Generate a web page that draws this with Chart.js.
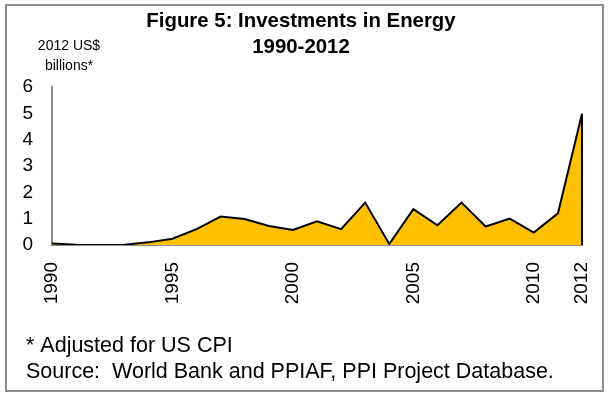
<!DOCTYPE html>
<html>
<head>
<meta charset="utf-8">
<title>Investments in Energy 1990-2012</title>
<script src="https://cdn.jsdelivr.net/npm/chart.js@4.4.1/dist/chart.umd.min.js"></script>
<style>
  html, body { margin: 0; padding: 0; background: #fff; }
  #wrap { position: relative; width: 608px; height: 394px; }
</style>
</head>
<body>
<div id="wrap"><canvas id="energyChart" width="608" height="394"></canvas></div>
<script>
// Investment in energy, 2012 US$ billions (adjusted for US CPI)
const years = ['1990', '1991', '1992', '1993', '1994', '1995', '1996', '1997', '1998', '1999', '2000',
               '2001', '2002', '2003', '2004', '2005', '2006', '2007', '2008', '2009', '2010', '2011', '2012'];
const investment = [0.06, 0.01, 0.0, 0.01, 0.1, 0.24, 0.6, 1.08, 0.99, 0.72, 0.57,
                    0.9, 0.6, 1.61, 0.04, 1.36, 0.75, 1.61, 0.7, 1.0, 0.47, 1.2, 4.98];
const shownYears = ['1990', '1995', '2000', '2005', '2010', '2012'];
const titleLines = ['Figure 5: Investments in Energy', '1990-2012'];
const unitLines = ['2012 US$', 'billions*'];
const noteLines = ['* Adjusted for US CPI', 'Source:  World Bank and PPIAF, PPI Project Database.'];

const FONT = "'Liberation Sans', Arial, sans-serif";
const AXIS_GREY = '#8c8c8c';

// frame, unit label, footnotes and the closing edge of the area
const decorations = {
    id: 'decorations',
    afterDraw(chart) {
        const ctx = chart.ctx;
        const area = chart.chartArea;
        ctx.save();

        // right-hand closing edge of the filled area
        const meta = chart.getDatasetMeta(0);
        const last = meta.data[meta.data.length - 1];
        ctx.strokeStyle = '#000';
        ctx.lineWidth = 2;
        ctx.beginPath();
        ctx.moveTo(last.x, last.y);
        ctx.lineTo(last.x, area.bottom);
        ctx.stroke();

        // outer frame
        ctx.strokeStyle = AXIS_GREY;
        ctx.lineWidth = 2;
        ctx.strokeRect(6, 5, 597, 386);

        ctx.fillStyle = '#000';
        ctx.textBaseline = 'middle';

        // unit label above the y axis
        ctx.font = '14px ' + FONT;
        ctx.textAlign = 'center';
        ctx.fillText(unitLines[0], 69, 46);
        ctx.fillText(unitLines[1], 69, 66);

        // footnotes
        ctx.font = '21.5px ' + FONT;
        ctx.textAlign = 'left';
        ctx.fillText(noteLines[0], 26, 346);
        ctx.fillText(noteLines[1], 26, 372);

        ctx.restore();
    }
};

const ctx = document.getElementById('energyChart').getContext('2d');
const chart = new Chart(ctx, {
    type: 'line',
    data: {
        labels: years,
        datasets: [{
            label: 'Investments in Energy',
            data: investment,
            borderColor: '#000',
            borderWidth: 2,
            backgroundColor: '#ffc000',
            fill: 'origin',
            tension: 0,
            pointRadius: 0,
            pointHoverRadius: 0
        }]
    },
    options: {
        responsive: false,
        animation: false,
        events: [],
        layout: {
            padding: { left: 20, right: 26, top: 0, bottom: 0 }
        },
        plugins: {
            legend: { display: false },
            tooltip: { enabled: false },
            title: {
                display: true,
                text: titleLines,
                color: '#000',
                font: { family: FONT, size: 20.4, weight: 'bold', lineHeight: 1.25 },
                padding: { top: 9, bottom: 27 }
            }
        },
        scales: {
            x: {
                offset: false,
                z: 1,
                grid: { display: false, drawTicks: false },
                border: { display: true, color: AXIS_GREY, width: 2 },
                ticks: {
                    autoSkip: false,
                    maxRotation: 90,
                    minRotation: 90,
                    padding: 17,
                    color: '#000',
                    font: { family: FONT, size: 19 },
                    callback: function (value) {
                        const label = this.getLabelForValue(value);
                        return shownYears.includes(label) ? label : '';
                    }
                },
                afterFit: (scale) => {
                    scale.height = 149;
                    scale.paddingLeft = 0;
                    scale.paddingRight = 0;
                }
            },
            y: {
                min: 0,
                max: 6,
                z: 1,
                grid: { display: false, drawTicks: false },
                border: { display: true, color: AXIS_GREY, width: 2 },
                ticks: {
                    stepSize: 1,
                    padding: 19,
                    color: '#000',
                    font: { family: FONT, size: 19 }
                },
                afterFit: (scale) => {
                    scale.width = 32;
                    scale.paddingTop = 0;
                    scale.paddingBottom = 0;
                }
            }
        }
    },
    plugins: [decorations]
});
</script>
</body>
</html>
